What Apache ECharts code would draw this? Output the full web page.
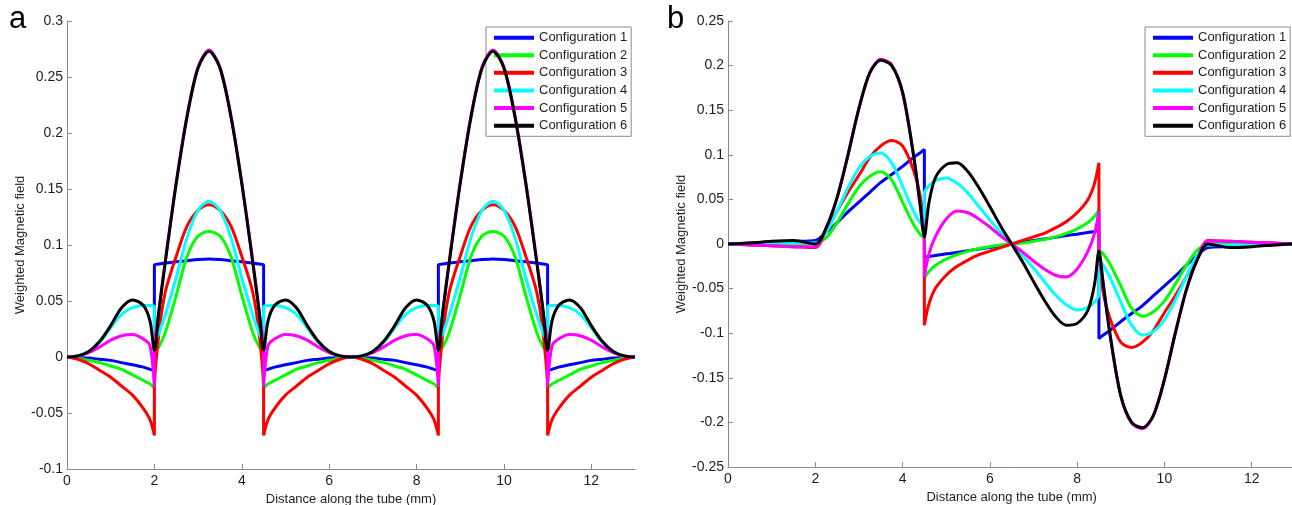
<!DOCTYPE html>
<html>
<head>
<meta charset="utf-8">
<script src="https://cdn.jsdelivr.net/npm/echarts@6/dist/echarts.min.js"></script>
<style>
html,body{margin:0;padding:0;background:#fff;}
#chart{width:1292px;height:505px;}
</style>
</head>
<body>
<div id="chart"></div>
<script>
// ---------- Data ----------
const seriesNames = ['Configuration 1','Configuration 2','Configuration 3','Configuration 4','Configuration 5','Configuration 6'];
const xTickLabels = [0, 2, 4, 6, 8, 10, 12];

// Panel a: distance along the tube (mm)
const xA = [0,0.25,0.5,0.75,1,1.25,1.5,1.75,1.9,2,2,2.1,2.25,2.5,2.75,3,3.25,3.5,3.75,4,4.25,4.4,4.5,4.5,4.6,4.75,5,5.25,5.5,5.75,6,6.25,6.5,
  6.75,7,7.25,7.5,7.75,8,8.25,8.4,8.5,8.5,8.6,8.75,9,9.25,9.5,9.75,10,10.25,10.5,10.75,10.9,11,11,11.1,11.25,11.5,11.75,12,12.25,12.5,12.75,13];
const conf1A = [0,-0.0005,-0.001,-0.002,-0.003,-0.005,-0.007,-0.009,-0.011,-0.012,0.082,0.083,0.084,0.085,0.086,0.087,0.0875,0.087,0.086,0.085,0.084,0.083,0.082,-0.012,-0.011,-0.009,-0.007,-0.005,-0.003,-0.002,-0.001,-0.0005,0,
  -0.0005,-0.001,-0.002,-0.003,-0.005,-0.007,-0.009,-0.011,-0.012,0.082,0.083,0.084,0.085,0.086,0.087,0.0875,0.087,0.086,0.085,0.084,0.083,0.082,-0.012,-0.011,-0.009,-0.007,-0.005,-0.003,-0.002,-0.001,-0.0005,0];
const conf2A = [0,-0.001,-0.003,-0.005,-0.008,-0.011,-0.016,-0.021,-0.024,-0.028,0.004,0.009,0.022,0.055,0.09,0.108,0.112,0.108,0.09,0.055,0.022,0.009,0.004,-0.028,-0.024,-0.021,-0.016,-0.011,-0.008,-0.005,-0.003,-0.001,0,
  -0.001,-0.003,-0.005,-0.008,-0.011,-0.016,-0.021,-0.024,-0.028,0.004,0.009,0.022,0.055,0.09,0.108,0.112,0.108,0.09,0.055,0.022,0.009,0.004,-0.028,-0.024,-0.021,-0.016,-0.011,-0.008,-0.005,-0.003,-0.001,0];
const conf3A = [0,-0.002,-0.006,-0.012,-0.018,-0.026,-0.034,-0.046,-0.056,-0.07,-0.03,0.02,0.058,0.09,0.117,0.131,0.136,0.131,0.117,0.09,0.058,0.02,-0.03,-0.07,-0.056,-0.046,-0.034,-0.026,-0.018,-0.012,-0.006,-0.002,0,
  -0.002,-0.006,-0.012,-0.018,-0.026,-0.034,-0.046,-0.056,-0.07,-0.03,0.02,0.058,0.09,0.117,0.131,0.136,0.131,0.117,0.09,0.058,0.02,-0.03,-0.07,-0.056,-0.046,-0.034,-0.026,-0.018,-0.012,-0.006,-0.002,0];
const conf4A = [0,0.001,0.005,0.013,0.026,0.038,0.044,0.046,0.046,0.045,0.014,0.021,0.038,0.071,0.107,0.131,0.139,0.131,0.107,0.071,0.038,0.021,0.014,0.045,0.046,0.046,0.044,0.038,0.026,0.013,0.005,0.001,0,
  0.001,0.005,0.013,0.026,0.038,0.044,0.046,0.046,0.045,0.014,0.021,0.038,0.071,0.107,0.131,0.139,0.131,0.107,0.071,0.038,0.021,0.014,0.045,0.046,0.046,0.044,0.038,0.026,0.013,0.005,0.001,0];
const conf5A = [0,0.001,0.004,0.009,0.015,0.019,0.02,0.016,0.01,-0.027,0.006,0.04,0.086,0.156,0.216,0.259,0.274,0.259,0.216,0.156,0.086,0.04,0.006,-0.027,0.01,0.016,0.02,0.019,0.015,0.009,0.004,0.001,0,
  0.001,0.004,0.009,0.015,0.019,0.02,0.016,0.01,-0.027,0.006,0.04,0.086,0.156,0.216,0.259,0.274,0.259,0.216,0.156,0.086,0.04,0.006,-0.027,0.01,0.016,0.02,0.019,0.015,0.009,0.004,0.001,0];
const conf6A = [0,0.001,0.005,0.014,0.028,0.044,0.051,0.046,0.032,0.006,0.006,0.04,0.085,0.155,0.215,0.258,0.273,0.258,0.215,0.155,0.085,0.04,0.006,0.006,0.032,0.046,0.051,0.044,0.028,0.014,0.005,0.001,0,
  0.001,0.005,0.014,0.028,0.044,0.051,0.046,0.032,0.006,0.006,0.04,0.085,0.155,0.215,0.258,0.273,0.258,0.215,0.155,0.085,0.04,0.006,0.006,0.032,0.046,0.051,0.044,0.028,0.014,0.005,0.001,0];

// Panel b
const xB = [0,0.5,1,1.5,2,2.25,2.5,2.75,3,3.25,3.5,3.75,4,4.25,4.4,4.5,4.5,4.6,4.75,5,5.25,5.5,5.75,6,6.25,6.5,
  6.75,7,7.25,7.5,7.75,8,8.25,8.4,8.5,8.5,8.6,8.75,9,9.25,9.5,9.75,10,10.25,10.5,10.75,11,11.5,12,12.5,13];
const conf1B = [0,0.001,0.002,0.003,0.004,0.013,0.024,0.036,0.047,0.058,0.069,0.078,0.087,0.097,0.102,0.106,-0.015,-0.014,-0.013,-0.011,-0.0095,-0.0075,-0.0055,-0.004,-0.002,0,
  0.002,0.004,0.0055,0.0075,0.0095,0.011,0.013,0.014,0.015,-0.106,-0.102,-0.097,-0.087,-0.078,-0.069,-0.058,-0.047,-0.036,-0.024,-0.013,-0.004,-0.003,-0.002,-0.001,0];
const conf2B = [0,0,0,0,0.001,0.007,0.024,0.045,0.064,0.076,0.081,0.072,0.047,0.022,0.011,0.005,-0.038,-0.031,-0.024,-0.017,-0.012,-0.008,-0.005,-0.003,-0.001,0,
  0.001,0.003,0.005,0.008,0.012,0.017,0.024,0.031,0.038,-0.005,-0.011,-0.022,-0.047,-0.072,-0.081,-0.076,-0.064,-0.045,-0.024,-0.007,-0.001,0,0,0,0];
const conf3B = [0,-0.001,-0.002,-0.003,-0.004,0.015,0.037,0.058,0.077,0.097,0.11,0.116,0.11,0.083,0.055,0.01,-0.091,-0.068,-0.05,-0.035,-0.025,-0.018,-0.012,-0.008,-0.004,0,
  0.004,0.008,0.012,0.018,0.025,0.035,0.05,0.068,0.091,-0.01,-0.055,-0.083,-0.11,-0.116,-0.11,-0.097,-0.077,-0.058,-0.037,-0.015,0.004,0.003,0.002,0.001,0];
const conf4B = [0,0,0.001,0.001,0.001,0.013,0.037,0.063,0.085,0.098,0.102,0.091,0.065,0.037,0.024,0.018,0.057,0.065,0.071,0.074,0.068,0.057,0.042,0.027,0.013,0,
  -0.013,-0.027,-0.042,-0.057,-0.068,-0.074,-0.071,-0.065,-0.057,-0.018,-0.024,-0.037,-0.065,-0.091,-0.102,-0.098,-0.085,-0.063,-0.037,-0.013,-0.001,-0.001,-0.001,0,0];
const conf5B = [0,-0.001,-0.002,-0.003,-0.003,0.018,0.052,0.1,0.152,0.192,0.207,0.201,0.17,0.1,0.045,0.008,-0.037,-0.012,0.008,0.028,0.037,0.035,0.028,0.019,0.009,0,
  -0.009,-0.019,-0.028,-0.035,-0.037,-0.028,-0.008,0.012,0.037,-0.008,-0.045,-0.1,-0.17,-0.201,-0.207,-0.192,-0.152,-0.1,-0.052,-0.018,0.003,0.003,0.002,0.001,0];
const conf6B = [0,0.001,0.003,0.004,0,0.018,0.052,0.1,0.152,0.192,0.206,0.2,0.17,0.1,0.045,0.008,0.008,0.045,0.074,0.089,0.091,0.081,0.063,0.042,0.02,0,
  -0.02,-0.042,-0.063,-0.081,-0.091,-0.089,-0.074,-0.045,-0.008,-0.008,-0.045,-0.1,-0.17,-0.2,-0.206,-0.192,-0.152,-0.1,-0.052,-0.018,0,-0.004,-0.003,-0.001,0];

// ---------- Chart ----------
const colors = ['#0000ff','#00ff00','#ff0000','#00ffff','#ff00ff','#000000'];
const FONT = 'Liberation Sans, Arial, Helvetica, sans-serif';
const AXIS_COLOR = '#8a8a8a';
const TEXT_COLOR = '#1e1e1e';

const chart = echarts.init(document.getElementById('chart'), null, {renderer: 'canvas'});

function pairs(xs, ys) { return xs.map((x, i) => [x, ys[i]]); }

const panelA = [conf1A, conf2A, conf3A, conf4A, conf5A, conf6A];
const panelB = [conf1B, conf2B, conf3B, conf4B, conf5B, conf6B];

const series = [];
[[xA, panelA, 0], [xB, panelB, 1]].forEach(([xs, sets, idx]) => {
  sets.forEach((ys, k) => {
    series.push({
      name: seriesNames[k],
      type: 'line',
      xAxisIndex: idx,
      yAxisIndex: idx,
      data: pairs(xs, ys),
      symbol: 'none',
      showSymbol: false,
      smooth: 0.3,
      color: colors[k],
      lineStyle: {color: colors[k], width: 3},
      emphasis: {disabled: true},
      animation: false,
      z: 2 + k
    });
  });
});

function xAxisCfg(idx) {
  return {
    type: 'value', gridIndex: idx, min: 0, max: 13, interval: 2,
    axisLine: {show: true, onZero: false, lineStyle: {color: AXIS_COLOR, width: 1}},
    axisTick: {show: true, inside: true, length: 5, customValues: xTickLabels, lineStyle: {color: AXIS_COLOR}},
    axisLabel: {customValues: xTickLabels, color: TEXT_COLOR, fontSize: 14, fontFamily: FONT, margin: 5},
    splitLine: {show: false},
    name: 'Distance along the tube (mm)', nameLocation: 'middle', nameGap: 21,
    nameTextStyle: {fontSize: 13, color: TEXT_COLOR, fontFamily: FONT}
  };
}
function yAxisCfg(idx, min, max) {
  return {
    type: 'value', gridIndex: idx, min: min, max: max, interval: 0.05,
    axisLine: {show: true, onZero: false, lineStyle: {color: AXIS_COLOR, width: 1}},
    axisTick: {show: true, inside: true, length: 5, lineStyle: {color: AXIS_COLOR}},
    axisLabel: {color: TEXT_COLOR, fontSize: 14, fontFamily: FONT, margin: 4},
    splitLine: {show: false},
    name: 'Weighted Magnetic field', nameLocation: 'middle', nameGap: 39,
    nameTextStyle: {fontSize: 13, color: TEXT_COLOR, fontFamily: FONT}
  };
}
function legendCfg(left) {
  return {
    data: seriesNames, orient: 'vertical', left: left, top: 27,
    icon: 'rect', itemWidth: 40, itemHeight: 4, itemGap: 0.3,
    padding: [2, 4, 2, 8], borderColor: '#8a8a8a', borderWidth: 1, borderRadius: 0,
    backgroundColor: '#ffffff', selectedMode: false,
    textStyle: {fontSize: 13, color: TEXT_COLOR, fontFamily: FONT, lineHeight: 17.3}
  };
}

chart.setOption({
  animation: false,
  backgroundColor: '#ffffff',
  grid: [
    {left: 67, top: 21, width: 568, height: 448, containLabel: false, outerBoundsMode: 'none'},
    {left: 728, top: 21, width: 567.3, height: 446, containLabel: false, outerBoundsMode: 'none'}
  ],
  xAxis: [xAxisCfg(0), xAxisCfg(1)],
  yAxis: [yAxisCfg(0, -0.1, 0.3), yAxisCfg(1, -0.25, 0.25)],
  legend: [legendCfg(486), legendCfg(1145)],
  graphic: [
    {type: 'text', left: 9, top: 4, style: {text: 'a', font: '31px Liberation Sans, Arial, sans-serif', fill: '#000'}},
    {type: 'text', left: 667, top: 4, style: {text: 'b', font: '31px Liberation Sans, Arial, sans-serif', fill: '#000'}}
  ],
  series: series
});
</script>
</body>
</html>
